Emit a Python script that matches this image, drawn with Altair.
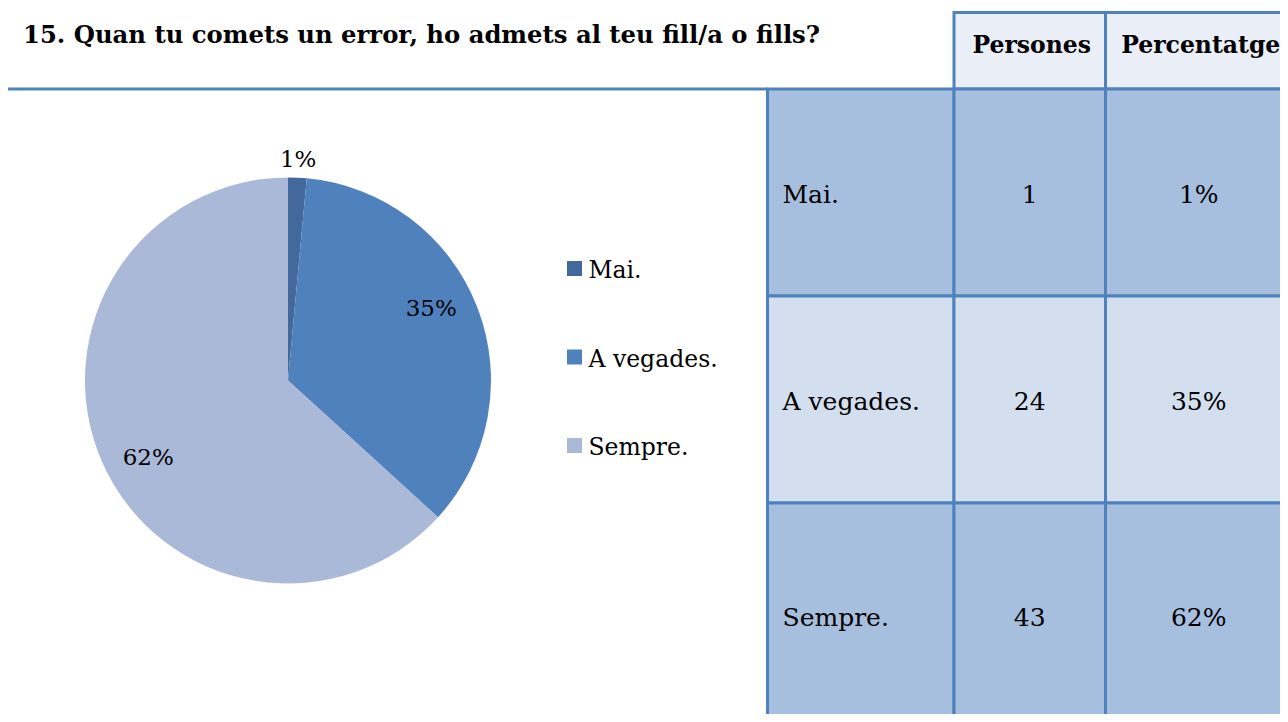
import altair as alt
import pandas as pd

# ---------------- data ----------------
title_text = "15. Quan tu comets un error, ho admets al teu fill/a o fills?"
categories = ["Mai.", "A vegades.", "Sempre."]
persones = [1, 24, 43]
percentatge = ["1%", "35%", "62%"]
header = ["Persones", "Percentatge"]

# ---------------- styles / layout ----------------
FONT = "DejaVu Serif"
pie_colors = ["#43699C", "#4F81BD", "#AAB9D7"]
row_fills = ["#A7BFDE", "#D3DFEE", "#A7BFDE"]
header_fill = "#EAEFF7"
border = "#4F81BD"

W, H = 1272, 706
cx, cy, R = 280, 372.5, 203
col_edges = [759.5, 946, 1097.5, 1284]
row_edges = [81, 288, 495, 720]
header_top = 4.5
legend_x, legend_y0, legend_step = 566.5, 260.5, 88.5

# ---------------- pie ----------------
pie_df = pd.DataFrame({"cat": categories, "n": persones, "pct": percentatge,
                       "order": list(range(len(categories)))})
color_scale = alt.Scale(domain=categories, range=pie_colors)

base_pie = alt.Chart(pie_df).encode(
    theta=alt.Theta("n:Q", stack=True),
    order=alt.Order("order:Q"),
)
arcs = base_pie.mark_arc(outerRadius=R).encode(
    x=alt.value(cx), y=alt.value(cy),
    color=alt.Color("cat:N", scale=color_scale, legend=None),
)
pie_labels = base_pie.mark_text(font=FONT, fontSize=23, baseline="middle", align="center").encode(
    x=alt.value(cx), y=alt.value(cy),
    radius=alt.Radius("r:Q", scale=None),
    text="pct:N",
    color=alt.value("black"),
).transform_joinaggregate(total="sum(n)").transform_calculate(
    r="datum.n / datum.total < 0.05 ? 221 : 160"
)

# ---------------- legend (built from categories) ----------------
leg_df = pd.DataFrame({"cat": categories, "i": list(range(len(categories)))})
leg_base = alt.Chart(leg_df).transform_calculate(
    ly=f"{legend_y0} + datum.i * {legend_step}",
    ty=f"{legend_y0} + datum.i * {legend_step} + 9.5",
)
leg_sq = leg_base.mark_square(size=225, opacity=1).encode(
    x=alt.value(legend_x),
    y=alt.Y("ly:Q", scale=None, axis=None),
    color=alt.Color("cat:N", scale=color_scale, legend=None),
)
leg_txt = leg_base.mark_text(font=FONT, fontSize=23.5, align="left", baseline="alphabetic",
                             color="black").encode(
    x=alt.value(legend_x + 14),
    y=alt.Y("ty:Q", scale=None, axis=None),
    text="cat:N",
)

# ---------------- table ----------------
cells = []
for j, h in enumerate(header):
    x1, x2 = col_edges[j + 1], col_edges[j + 2]
    cells.append(dict(x1=x1, x2=x2, y1=header_top, y2=row_edges[0], fill=header_fill,
                      text=h, kind="header", tx=(x1 + x2) / 2 + 2, ty=44.5))
for i, cat in enumerate(categories):
    y1, y2 = row_edges[i], row_edges[i + 1]
    vals = [cat, str(persones[i]), percentatge[i]]
    for j, v in enumerate(vals):
        x1, x2 = col_edges[j], col_edges[j + 1]
        cells.append(dict(x1=x1, x2=x2, y1=y1, y2=y2, fill=row_fills[i], text=v,
                          kind="left" if j == 0 else "center",
                          tx=x1 + 15 if j == 0 else (x1 + x2) / 2,
                          ty=(y1 + y2) / 2 + 10))
cells_df = pd.DataFrame(cells)

rects = alt.Chart(cells_df).mark_rect(stroke=border, strokeWidth=3).encode(
    x=alt.X("x1:Q", scale=None, axis=None),
    x2="x2:Q",
    y=alt.Y("y1:Q", scale=None, axis=None),
    y2="y2:Q",
    fill=alt.Fill("fill:N", scale=None),
)

def cell_text(kind, align, weight, size):
    return alt.Chart(cells_df).transform_filter(f"datum.kind == '{kind}'").mark_text(
        font=FONT, fontSize=size, fontWeight=weight, align=align, baseline="alphabetic",
        color="black",
    ).encode(
        x=alt.X("tx:Q", scale=None, axis=None),
        y=alt.Y("ty:Q", scale=None, axis=None),
        text="text:N",
    )

head_txt = cell_text("header", "center", "bold", 23.5)
left_txt = cell_text("left", "left", "normal", 25)
center_txt = cell_text("center", "center", "normal", 25)

top_rule = alt.Chart(pd.DataFrame({"y": [row_edges[0]]})).mark_rule(
    color=border, strokeWidth=3
).encode(
    x=alt.value(0), x2=alt.value(col_edges[0]),
    y=alt.Y("y:Q", scale=None, axis=None),
)

# ---------------- title ----------------
title = alt.Chart(pd.DataFrame({"t": [title_text]})).mark_text(
    font=FONT, fontSize=24.3, fontWeight="bold", align="left", baseline="alphabetic",
    color="black",
).encode(x=alt.value(15), y=alt.value(34.5), text="t:N")

chart = alt.layer(
    top_rule, rects, head_txt, left_txt, center_txt,
    arcs, pie_labels, leg_sq, leg_txt, title,
).properties(
    width=W, height=H, padding=0,
    autosize=alt.AutoSizeParams(type="none"),
    background="white",
).configure_view(stroke=None)

chart.save("out.html", embed_options={"renderer": "svg", "actions": False})
